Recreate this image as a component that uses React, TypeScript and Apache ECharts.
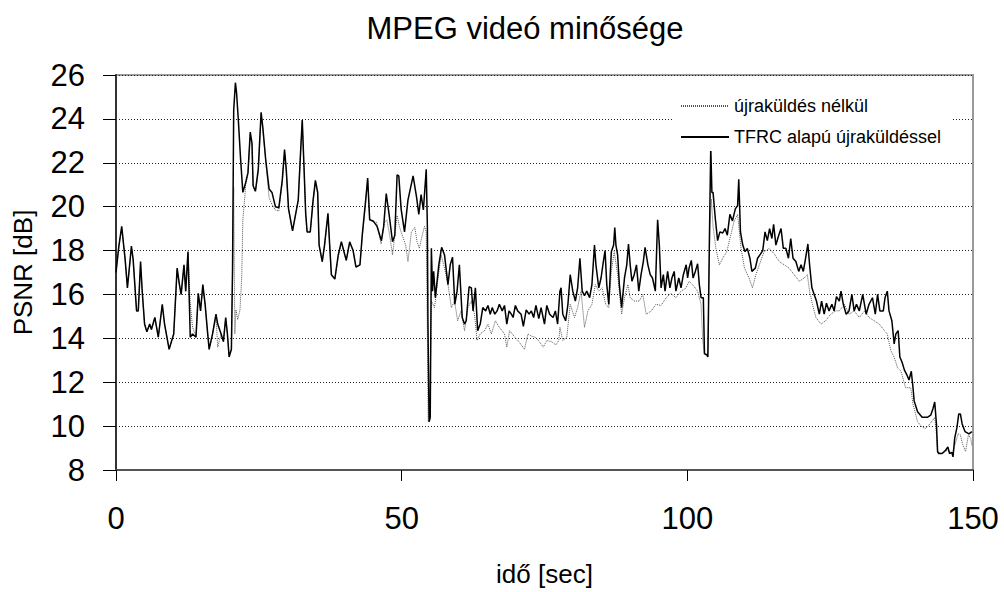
import React, { useEffect, useRef } from "react";
import * as echarts from "echarts";

const chartTitle = "MPEG videó minősége";
const xAxisName = "idő [sec]";
const yAxisName = "PSNR [dB]";
const seriesNames = ["újraküldés nélkül", "TFRC alapú újraküldéssel"];

// x-axis: 0..150 step 50; y-axis: 8..26 step 2
const xRange = [0, 150, 50];
const yRange = [8, 26, 2];

// [time (sec), PSNR (dB)] — without retransmission (dotted)
const withoutRetransmission: number[][] = [
  [0, 17.0], [0.5, 18.2], [1.0, 19.0], [1.6, 17.6], [2.0, 16.3], [2.7, 18.1], [3.0, 17.6], [3.6, 15.25], [3.9, 15.3],
  [4.3, 17.4], [4.6, 16.1], [5.0, 14.65], [5.4, 14.3], [5.9, 14.65], [6.2, 14.4], [6.8, 14.95], [7.4, 14.05], [8.1, 15.5],
  [8.5, 14.65], [9.3, 13.5], [10.1, 14.2], [10.7, 17.1], [11.1, 16.45], [11.4, 16.0], [11.9, 17.3], [12.2, 16.15],
  [12.6, 17.9], [13.0, 15.6], [13.4, 14.5], [14.0, 14.1], [14.4, 16.0], [14.8, 15.25], [15.2, 16.4], [15.6, 15.5],
  [16.0, 14.35], [16.3, 13.5], [16.9, 14.2], [17.5, 15.0], [17.8, 13.6], [18.4, 14.2], [18.8, 13.85], [19.2, 14.9],
  [19.5, 14.2], [19.8, 13.2], [20.2, 13.5], [20.4, 16.9], [20.6, 20.9], [20.8, 14.2], [21.0, 15.3], [21.3, 14.85],
  [21.7, 15.3], [22.0, 16.75], [22.2, 19.4], [22.5, 20.3], [22.7, 21.0], [23.1, 21.5], [23.5, 23.3], [23.8, 22.8],
  [24.0, 20.95], [24.4, 20.7], [24.9, 21.6], [25.4, 24.2], [25.7, 23.5], [26.2, 22.1], [26.8, 20.4], [27.3, 20.1],
  [27.9, 19.85], [28.5, 19.8], [29.1, 21.1], [29.5, 22.5], [29.8, 21.6], [30.2, 19.9], [30.9, 18.9], [31.4, 19.6],
  [31.9, 20.3], [32.3, 22.4], [32.6, 23.9], [32.9, 21.8], [33.2, 19.7], [33.45, 18.85], [34.0, 18.85], [34.5, 20.2],
  [34.9, 21.1], [35.3, 20.6], [35.55, 18.25], [36.1, 17.5], [36.5, 18.2], [37.1, 19.6], [37.4, 18.2], [37.7, 16.9],
  [38.3, 16.7], [38.9, 17.7], [39.45, 18.4], [40.0, 17.85], [40.3, 17.55], [40.9, 18.35], [41.5, 18.0], [42.0, 17.25],
  [42.7, 17.35], [43.1, 18.6], [43.7, 20.2], [44.05, 21.2], [44.4, 19.4], [45.0, 19.3], [45.6, 19.3], [46.4, 18.3],
  [47.0, 19.3], [47.4, 19.4], [47.9, 18.7], [48.4, 17.8], [48.8, 18.7], [49.2, 19.6], [49.6, 19.1], [50.1, 18.7],
  [50.7, 18.25], [51.1, 17.5], [51.7, 18.85], [52.3, 19.05], [52.7, 18.4], [53.1, 18.1], [53.6, 18.7], [54.0, 19.1],
  [54.3, 18.85], [54.5, 14.2], [54.65, 10.2], [54.9, 10.3], [55.2, 15.7], [55.75, 15.4], [56.3, 16.6], [56.9, 17.8],
  [57.5, 17.2], [58.1, 16.45], [58.7, 15.4], [59.25, 15.7], [59.8, 14.8], [60.4, 15.25], [61.0, 14.35], [61.6, 15.4],
  [62.2, 15.7], [62.75, 15.1], [63.2, 13.9], [63.75, 14.2], [64.5, 14.35], [65.1, 14.65], [65.7, 14.2], [66.4, 14.8],
  [67.1, 14.5], [68.0, 14.2], [68.4, 13.6], [68.9, 14.35], [69.8, 14.05], [70.5, 13.85], [71.5, 13.5], [72.1, 14.2],
  [72.7, 14.1], [73.4, 14.05], [74.1, 13.85], [74.8, 13.6], [75.4, 13.9], [76.2, 13.85], [77.0, 13.7], [77.5, 13.9],
  [77.7, 14.5], [78.2, 13.9], [78.9, 14.05], [79.5, 15.55], [80.25, 14.95], [80.8, 15.4], [81.4, 16.15], [82.0, 14.5],
  [82.6, 15.25], [83.3, 15.55], [83.9, 16.45], [84.5, 16.15], [85.1, 16.3], [85.7, 15.55], [86.25, 15.4], [86.7, 17.05],
  [87.2, 17.95], [87.8, 16.9], [88.5, 15.1], [89.0, 15.85], [89.6, 16.45], [90.0, 15.85], [90.7, 15.7], [91.6, 15.7],
  [92.2, 16.0], [92.8, 15.1], [93.7, 15.25], [94.5, 15.55], [95.4, 15.5], [96.3, 15.85], [97.1, 16.05], [98.0, 15.85],
  [98.9, 16.15], [99.8, 16.3], [100.3, 16.6], [100.9, 16.45], [101.8, 16.15], [102.4, 15.55], [102.7, 13.9], [103.0, 13.25],
  [103.55, 13.25], [103.95, 19.1], [104.2, 20.35], [104.5, 19.1], [105.0, 18.1], [105.6, 17.35], [106.2, 17.65],
  [106.9, 17.95], [107.6, 18.7], [108.2, 19.35], [108.8, 19.65], [109.4, 18.1], [110.0, 17.2], [110.8, 16.75],
  [111.4, 16.3], [112.0, 16.9], [112.6, 17.35], [113.45, 17.95], [114.3, 18.1], [115.2, 17.85], [116.1, 17.5],
  [116.95, 17.35], [117.8, 17.2], [118.7, 16.9], [119.6, 16.6], [120.45, 16.75], [121.0, 16.9], [121.4, 16.15],
  [121.9, 15.55], [122.5, 14.95], [123.4, 14.65], [124.2, 14.8], [125.1, 15.1], [126.0, 15.25], [126.6, 15.25],
  [127.5, 15.55], [128.3, 15.1], [129.2, 15.25], [130.1, 14.95], [131.0, 15.25], [131.8, 14.95], [132.7, 14.8],
  [133.6, 14.65], [134.5, 14.35], [135.0, 14.2], [135.6, 13.45], [136.2, 13.15], [136.8, 12.65], [137.4, 12.5],
  [138.2, 11.75], [139.1, 11.75], [139.5, 11.0], [140.3, 10.2], [141.1, 9.95], [141.7, 9.9], [142.3, 10.05],
  [142.9, 10.25], [143.3, 10.4], [143.6, 9.65], [143.8, 8.8], [144.6, 8.75], [145.5, 8.9], [146.4, 8.75], [146.9, 9.2],
  [147.4, 9.65], [147.8, 9.6], [148.2, 9.15], [148.7, 8.85], [149.2, 9.6], [149.6, 9.45], [149.8, 9.1],
];

// [time (sec), PSNR (dB)] — TFRC-based retransmission (solid)
const withRetransmission: number[][] = [
  [0, 17.0], [0.5, 18.2], [1.0, 19.1], [1.6, 17.6], [2.0, 16.3], [2.7, 18.2], [3.0, 17.6], [3.6, 15.25], [3.9, 15.25],
  [4.3, 17.5], [4.6, 16.1], [5.0, 14.65], [5.4, 14.3], [5.9, 14.65], [6.2, 14.4], [6.8, 14.95], [7.4, 14.05], [8.1, 15.55],
  [8.5, 14.65], [9.3, 13.5], [10.1, 14.2], [10.7, 17.2], [11.1, 16.45], [11.4, 16.0], [11.9, 17.35], [12.2, 16.15],
  [12.6, 17.95], [13.0, 14.05], [13.4, 14.2], [14.0, 14.05], [14.4, 16.05], [14.8, 15.25], [15.2, 16.45], [15.6, 15.55],
  [16.0, 14.35], [16.3, 13.5], [16.9, 14.2], [17.5, 15.1], [17.8, 14.65], [18.4, 14.2], [18.8, 13.85], [19.2, 14.95],
  [19.5, 14.2], [19.8, 13.15], [20.2, 13.5], [20.4, 17.2], [20.6, 24.4], [20.9, 25.65], [21.1, 25.2], [21.4, 24.0],
  [21.8, 22.2], [22.2, 20.65], [22.7, 21.1], [23.1, 21.55], [23.5, 23.4], [23.8, 22.9], [24.0, 20.95], [24.4, 20.7],
  [24.9, 21.7], [25.4, 24.3], [25.7, 23.6], [26.2, 22.15], [26.8, 20.8], [27.3, 20.65], [27.9, 20.0], [28.5, 19.95],
  [29.1, 21.2], [29.5, 22.6], [29.8, 21.7], [30.2, 19.9], [30.9, 18.9], [31.4, 19.6], [31.9, 20.3], [32.3, 22.45],
  [32.6, 23.95], [32.9, 21.85], [33.2, 19.7], [33.45, 18.85], [34.0, 18.85], [34.5, 20.3], [34.9, 21.2], [35.3, 20.65],
  [35.55, 18.25], [36.1, 17.5], [36.5, 18.25], [37.1, 19.7], [37.4, 18.25], [37.7, 16.9], [38.3, 16.7], [38.9, 17.8],
  [39.45, 18.4], [40.0, 17.85], [40.3, 17.55], [40.9, 18.4], [41.5, 18.0], [42.0, 17.25], [42.7, 17.35], [43.1, 18.7],
  [43.7, 20.3], [44.05, 21.3], [44.4, 19.4], [45.0, 19.35], [45.7, 19.1], [46.45, 18.45], [46.85, 19.1], [47.3, 20.6],
  [47.8, 19.65], [48.4, 18.4], [48.8, 18.7], [49.2, 21.45], [49.5, 21.4], [49.9, 19.9], [50.5, 18.85], [51.1, 20.3],
  [52.0, 21.4], [52.6, 20.45], [53.0, 19.65], [53.4, 20.55], [53.8, 19.85], [54.3, 21.7], [54.5, 19.1], [54.6, 14.65],
  [54.8, 10.2], [55.0, 10.4], [55.2, 18.1], [55.4, 16.15], [55.6, 17.05], [55.9, 15.85], [56.5, 17.35], [57.0, 18.15],
  [57.5, 17.8], [58.1, 16.45], [58.5, 17.35], [58.9, 17.7], [59.3, 15.55], [59.7, 16.15], [60.1, 17.35], [60.6, 14.95],
  [61.0, 14.65], [61.3, 14.8], [61.8, 16.35], [62.2, 16.3], [62.5, 15.25], [62.9, 16.3], [63.3, 14.35], [63.75, 14.65],
  [64.2, 15.4], [64.7, 15.25], [65.1, 15.5], [65.5, 15.1], [65.85, 15.4], [66.3, 15.1], [66.7, 15.25], [67.1, 15.55],
  [67.6, 15.25], [68.0, 15.5], [68.4, 14.65], [68.8, 15.25], [69.2, 15.1], [69.5, 14.95], [69.9, 15.5], [70.3, 15.25],
  [70.9, 15.1], [71.3, 14.55], [71.8, 15.3], [72.3, 15.1], [72.7, 15.25], [73.1, 14.95], [73.5, 15.5], [74.0, 14.9],
  [74.4, 15.4], [75.0, 14.65], [75.4, 15.5], [75.9, 15.1], [76.5, 14.95], [76.9, 15.25], [77.3, 14.65], [77.7, 16.15],
  [77.9, 16.3], [78.2, 15.1], [78.7, 14.8], [79.1, 15.55], [79.5, 16.9], [79.95, 16.15], [80.4, 15.7], [80.8, 16.3],
  [81.2, 17.65], [81.6, 16.15], [82.0, 15.95], [82.4, 16.15], [82.9, 15.85], [83.3, 16.45], [83.75, 18.25], [84.0, 17.35],
  [84.5, 16.3], [84.9, 16.75], [85.3, 17.5], [85.6, 18.0], [85.9, 16.45], [86.25, 15.55], [86.7, 17.95], [87.1, 18.25],
  [87.3, 19.05], [87.5, 18.25], [87.8, 17.8], [88.1, 16.45], [88.5, 15.4], [89.0, 16.75], [89.4, 17.35], [89.7, 18.3],
  [90.0, 17.35], [90.3, 16.6], [90.7, 16.9], [91.1, 17.35], [91.5, 16.15], [91.9, 16.9], [92.3, 17.5], [92.6, 18.15],
  [93.1, 17.35], [93.5, 16.9], [93.9, 16.75], [94.4, 16.15], [94.8, 19.4], [95.1, 18.25], [95.4, 16.3], [95.8, 16.9],
  [96.1, 16.15], [96.55, 17.05], [96.95, 16.3], [97.3, 16.75], [97.7, 17.05], [98.0, 16.15], [98.5, 16.75], [98.9, 16.3],
  [99.3, 16.9], [99.8, 17.35], [100.05, 16.75], [100.3, 17.2], [100.7, 17.55], [101.0, 16.75], [101.4, 17.05],
  [101.8, 17.4], [102.1, 16.45], [102.4, 15.85], [102.8, 15.85], [103.0, 13.3], [103.4, 13.25], [103.6, 13.15],
  [103.85, 18.25], [104.1, 22.75], [104.3, 20.65], [104.5, 20.65], [104.9, 19.45], [105.3, 18.45], [105.7, 18.85],
  [106.2, 18.8], [106.6, 19.0], [107.0, 18.7], [107.45, 19.65], [107.9, 19.35], [108.4, 19.9], [108.8, 20.05],
  [109.0, 21.25], [109.3, 18.85], [109.7, 18.25], [110.1, 17.95], [110.5, 18.1], [110.95, 17.65], [111.3, 17.05],
  [111.9, 17.2], [112.3, 17.65], [112.7, 17.8], [113.2, 18.0], [113.6, 18.85], [114.0, 18.45], [114.4, 19.0],
  [114.8, 18.55], [115.1, 19.2], [115.5, 18.25], [116.0, 18.7], [116.4, 19.0], [116.8, 18.1], [117.25, 18.1],
  [117.7, 17.65], [118.1, 18.55], [118.5, 17.65], [119.0, 17.5], [119.5, 17.05], [119.9, 17.35], [120.3, 17.05],
  [120.7, 17.65], [121.1, 18.3], [121.4, 17.35], [121.8, 16.3], [122.2, 16.0], [122.6, 15.7], [123.1, 15.1],
  [123.5, 15.7], [123.95, 15.1], [124.35, 15.6], [124.8, 15.25], [125.3, 15.55], [125.7, 15.25], [126.1, 15.9],
  [126.6, 15.7], [126.9, 16.15], [127.3, 15.55], [127.8, 15.1], [128.3, 15.25], [128.8, 16.0], [129.2, 15.25],
  [129.6, 15.55], [130.1, 15.25], [130.7, 16.0], [131.3, 15.1], [131.8, 15.55], [132.4, 15.85], [132.9, 15.1],
  [133.3, 16.0], [133.7, 15.25], [134.3, 15.25], [134.6, 15.85], [135.0, 16.15], [135.3, 15.25], [135.8, 14.8],
  [136.2, 13.75], [136.5, 14.2], [136.9, 14.35], [137.2, 13.15], [137.6, 12.9], [138.0, 12.55], [138.4, 12.35],
  [138.8, 12.1], [139.2, 12.5], [139.5, 11.75], [139.7, 11.15], [140.3, 10.65], [141.1, 10.4], [142.0, 10.4],
  [142.6, 10.5], [143.0, 10.8], [143.3, 11.1], [143.6, 10.1], [143.8, 8.85], [144.0, 8.75], [144.6, 8.75], [145.2, 8.9],
  [145.6, 9.05], [145.9, 8.75], [146.3, 8.8], [146.5, 8.6], [146.8, 9.45], [147.2, 9.95], [147.5, 10.55], [147.8, 10.55],
  [148.1, 10.1], [148.6, 9.75], [149.3, 9.65], [149.8, 9.75],
];

const FONT = "'Liberation Sans', Arial, sans-serif";

export default function App() {
  const ref = useRef<HTMLDivElement>(null);

  useEffect(() => {
    if (!ref.current) return;
    const chart = echarts.init(ref.current, undefined, { renderer: "svg" });
    chart.setOption({
      animation: false,
      backgroundColor: "#ffffff",
      title: {
        text: chartTitle,
        left: 520,
        top: 8,
        textAlign: "center",
        textStyle: { fontFamily: FONT, fontSize: 31, fontWeight: "normal", color: "#000" },
      },
      legend: {
        orient: "vertical",
        left: 672,
        top: 92,
        itemWidth: 48,
        itemHeight: 14,
        itemGap: 13,
        padding: [5, 10, 5, 8],
        backgroundColor: "#ffffff",
        selectedMode: false,
        itemStyle: { opacity: 0, borderWidth: 0 },
        textStyle: { fontFamily: FONT, fontSize: 18, color: "#000" },
        data: [{ name: seriesNames[0] }, { name: seriesNames[1] }],
      },
      grid: {
        left: 116,
        top: 75,
        right: 31,
        bottom: 118,
        show: true,
        borderColor: "#9a9a9a",
        borderWidth: 2,
        backgroundColor: "transparent",
      },
      xAxis: {
        type: "value",
        min: xRange[0],
        max: xRange[1],
        interval: xRange[2],
        name: xAxisName,
        nameLocation: "middle",
        nameGap: 91,
        nameTextStyle: { fontFamily: FONT, fontSize: 26, color: "#000" },
        axisLine: { show: true, lineStyle: { color: "#555", width: 2 } },
        axisTick: { show: true, length: 11, lineStyle: { color: "#000", width: 1 } },
        axisLabel: { fontFamily: FONT, fontSize: 31, color: "#000", margin: 33 },
        splitLine: { show: false },
      },
      yAxis: {
        type: "value",
        min: yRange[0],
        max: yRange[1],
        interval: yRange[2],
        name: yAxisName,
        nameLocation: "middle",
        nameRotate: 90,
        nameGap: 80,
        nameTextStyle: { fontFamily: FONT, fontSize: 26, color: "#000" },
        axisLine: { show: true, lineStyle: { color: "#333", width: 2 } },
        axisTick: { show: true, length: 13, lineStyle: { color: "#000", width: 1 } },
        axisLabel: { fontFamily: FONT, fontSize: 31, color: "#000", margin: 31 },
        splitLine: { show: true, lineStyle: { color: "#222", width: 1, type: [1, 2] } },
      },
      series: [
        {
          name: seriesNames[0],
          type: "line",
          data: withoutRetransmission,
          showSymbol: false,
          symbol: "none",
          lineStyle: { color: "#555", width: 1, type: [1, 1] },
          itemStyle: { color: "#555" },
        },
        {
          name: seriesNames[1],
          type: "line",
          data: withRetransmission,
          showSymbol: false,
          symbol: "none",
          lineStyle: { color: "#000", width: 1.5 },
          itemStyle: { color: "#000" },
        },
      ],
    });
    return () => chart.dispose();
  }, []);

  return (
    <div
      ref={ref}
      style={{ position: "fixed", left: 0, top: 0, width: 1004, height: 592, background: "#fff" }}
    />
  );
}
